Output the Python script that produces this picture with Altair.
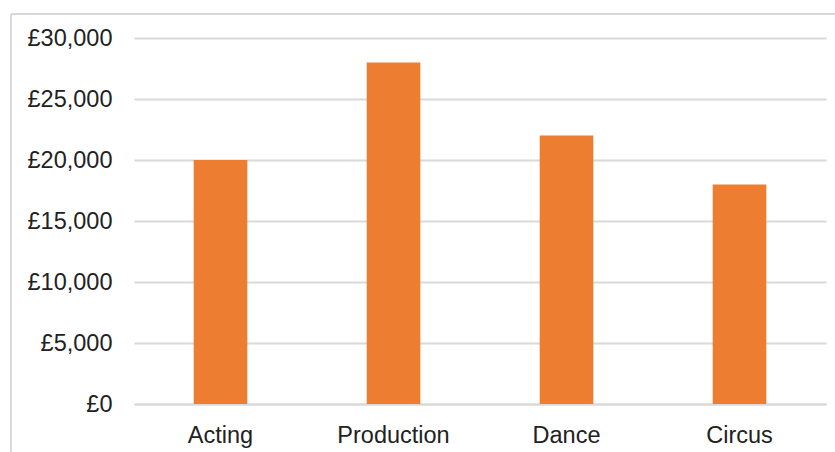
import altair as alt
import pandas as pd

# Average funding per discipline
categories = ["Acting", "Production", "Dance", "Circus"]
amounts = [20000, 28000, 22000, 18000]

df = pd.DataFrame({"discipline": categories, "amount": amounts})

FONT = "Liberation Sans"
GRID = "#D9D9D9"
TEXT = "#222222"

bars = (
    alt.Chart(df)
    .mark_bar(color="#ED7D31")
    .encode(
        x=alt.X(
            "discipline:N",
            sort=categories,
            title=None,
            scale=alt.Scale(paddingInner=0.69, paddingOuter=0.345),
            axis=alt.Axis(
                labelAngle=0,
                ticks=False,
                domain=True,
                domainColor=GRID,
                domainWidth=2,
                labelFont=FONT,
                labelFontSize=23.5,
                labelColor=TEXT,
                labelPadding=19,
            ),
        ),
        y=alt.Y(
            "amount:Q",
            title=None,
            scale=alt.Scale(domain=[0, 30000], nice=False),
            axis=alt.Axis(
                values=[0, 5000, 10000, 15000, 20000, 25000, 30000],
                labelExpr="'£' + format(datum.value, ',')",
                ticks=False,
                domain=False,
                grid=True,
                gridColor=GRID,
                gridWidth=2,
                labelFont=FONT,
                labelFontSize=23.5,
                labelColor=TEXT,
                labelPadding=22,
            ),
        ),
    )
)

# Light frame around the chart area (top and left edges)
frame_top = alt.Chart(df).mark_rule(color=GRID, strokeWidth=2).encode(
    x=alt.value(-123), x2=alt.value(701), y=alt.value(-24)
)
frame_left = alt.Chart(df).mark_rule(color=GRID, strokeWidth=2).encode(
    x=alt.value(-123), y=alt.value(-24), y2=alt.value(414)
)

chart = (
    alt.layer(frame_top, frame_left, bars)
    .properties(
        width=692,
        height=366,
        autosize=alt.AutoSizeParams(type="none"),
        padding={"left": 134, "top": 38, "right": 9, "bottom": 48},
        background="white",
    )
    .configure_view(stroke=None)
)

chart.save("out.html", embed_options={"renderer": "svg", "actions": False})
